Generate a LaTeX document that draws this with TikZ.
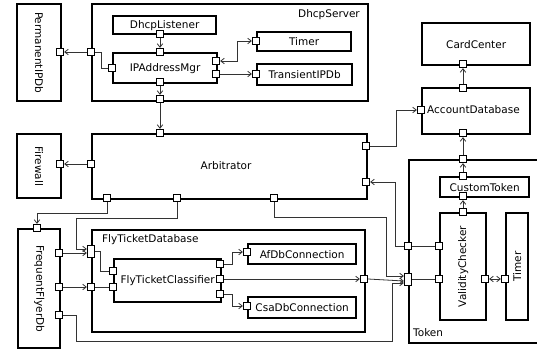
\documentclass[tikz,border=0pt]{standalone}
\usepackage{fontspec}
\setmainfont{DejaVu Sans}
\usetikzlibrary{arrows.meta}
\begin{document}
\begin{tikzpicture}[x=1pt,y=-1pt,
  every node/.style={font=\fontsize{10.5}{12}\selectfont, inner sep=0pt},
  comp/.style={draw, line width=2.3pt, rectangle, anchor=north west, inner sep=0pt},
  lbl/.style={anchor=center},
  port/.style={draw, fill=white, line width=0.8pt, minimum width=7.5pt, minimum height=7.5pt, inner sep=0pt},
  tallport/.style={port, minimum height=12pt},
  wire/.style={line width=0.8pt, draw=black!80},
  arr/.style={wire, -{Straight Barb[length=3.5pt,width=5.5pt]}},
  darr/.style={wire, {Straight Barb[length=3.5pt,width=5.5pt]}-{Straight Barb[length=3.5pt,width=5.5pt]}},
]
\useasboundingbox (0,0) rectangle (537,349);
\clip (0,0) rectangle (537,349);

% ---------- components ----------
\node[comp, minimum width=44pt,  minimum height=97pt]  (perm)   at (16,3)   {};
\node[comp, minimum width=276pt, minimum height=97pt]  (dhcp)   at (91,3)   {};
\node[comp, minimum width=103pt, minimum height=18pt]  (listen) at (112,15) {};
\node[comp, minimum width=104pt, minimum height=30pt]  (ipm)    at (112,52) {};
\node[comp, minimum width=94pt,  minimum height=19pt]  (timerA) at (256,31) {};
\node[comp, minimum width=95pt,  minimum height=21pt]  (trans)  at (256,63) {};
\node[comp, minimum width=108pt, minimum height=42pt]  (card)   at (421,22) {};
\node[comp, minimum width=108pt, minimum height=46pt]  (acct)   at (421,87) {};
\node[comp, minimum width=44pt,  minimum height=64pt]  (fw)     at (16,133) {};
\node[comp, minimum width=275pt, minimum height=65pt]  (arb)    at (91,133) {};
\node[comp, minimum width=137pt, minimum height=183pt] (token)  at (408,159) {};
\node[comp, minimum width=89pt,  minimum height=20pt]  (ctok)   at (439,176) {};
\node[comp, minimum width=46pt,  minimum height=107pt] (valid)  at (439,212) {};
\node[comp, minimum width=22pt,  minimum height=107pt] (timerB) at (505,212) {};
\node[comp, minimum width=42pt,  minimum height=119pt] (ffdb)   at (17,228) {};
\node[comp, minimum width=273pt, minimum height=102pt] (ftd)    at (91,229) {};
\node[comp, minimum width=107pt, minimum height=43pt]  (ftc)    at (113,258) {};
\node[comp, minimum width=108pt, minimum height=20pt]  (afdb)   at (247,243) {};
\node[comp, minimum width=108pt, minimum height=21pt]  (csa)    at (247,296) {};

% ---------- labels ----------
\node[lbl, rotate=-90] (permT)   at (perm.center)   {PermanentIPDb};
\node[anchor=east]     (dhcpT)   at (360,15)        {DhcpServer};
\node[lbl]             (listenT) at (listen.center) {DhcpListener};
\node[lbl]             (ipmT)    at (ipm.center)    {IPAddressMgr};
\node[lbl]             (timerAT) at (timerA.center) {Timer};
\node[lbl]             (transT)  at (trans.center)  {TransientIPDb};
\node[lbl]             (cardT)   at (card.center)   {CardCenter};
\node[anchor=west]     (acctT)   at (427,110)       {AccountDatabase};
\node[lbl, rotate=-90] (fwT)     at (fw.center)     {Firewall};
\node[lbl]             (arbT)    at (226,166)       {Arbitrator};
\node[anchor=west]     (tokenT)  at (413,333)       {Token};
\node[lbl]             (ctokT)   at (ctok.center)   {CustomToken};
\node[lbl, rotate=90]  (validT)  at (valid.center)  {ValidityChecker};
\node[lbl, rotate=90]  (timerBT) at (timerB.center) {Timer};
\node[lbl, rotate=-90] (ffdbT)   at (ffdb.center)   {FrequentFlyerDb};
\node[anchor=west]     (ftdT)    at (102,240)       {FlyTicketDatabase};
\node[lbl]             (ftcT)    at (ftc.center)    {FlyTicketClassifier};
\node[lbl]             (afdbT)   at (afdb.center)   {AfDbConnection};
\node[lbl]             (csaT)    at (csa.center)    {CsaDbConnection};

% ---------- ports ----------
\node[port] (pPerm)  at (60,52)   {};
\node[port] (pDhcpL) at (91,52)   {};
\node[port] (pDhcpB) at (160,99)  {};
\node[port] (pLisB)  at (160,34)  {};
\node[port] (pIpmT)  at (160,52)  {};
\node[port] (pIpmL)  at (112,68)  {};
\node[port] (pIpmR1) at (216,61)  {};
\node[port] (pIpmR2) at (216,74)  {};
\node[port] (pIpmB)  at (160,82)  {};
\node[port] (pTimA)  at (256,41)  {};
\node[port] (pTrans) at (256,74)  {};
\node[port] (pArbT)  at (160,133) {};
\node[port] (pArbL)  at (91,164)  {};
\node[port] (pFw)    at (60,164)  {};
\node[port] (pArbB1) at (107,198) {};
\node[port] (pArbB2) at (177,198) {};
\node[port] (pArbB3) at (274,198) {};
\node[port] (pArbR1) at (366,146) {};
\node[port] (pArbR2) at (366,182) {};
\node[port] (pAcctL) at (421,110) {};
\node[port] (pAcctT) at (463,88)  {};
\node[port] (pAcctB) at (463,133) {};
\node[port] (pCard)  at (463,64)  {};
\node[port] (pTokT)  at (463,159) {};
\node[port] (pCtokT) at (463,176) {};
\node[port] (pCtokB) at (463,196) {};
\node[port] (pValT)  at (463,212) {};
\node[port] (pValL1) at (439,246) {};
\node[port] (pValL2) at (439,279) {};
\node[port] (pValR)  at (485,279) {};
\node[port] (pTimB)  at (505,279) {};
\node[port] (pTokL1) at (408,246) {};
\node[tallport] (pTokL2) at (408,279) {};
\node[port] (pFfT)   at (37,228)  {};
\node[port] (pFfR1)  at (59,253)  {};
\node[port] (pFfR2)  at (59,287)  {};
\node[port] (pFfR3)  at (59,315)  {};
\node[tallport] (pFtdL1) at (91,251) {};
\node[port] (pFtdL2) at (91,287)  {};
\node[port] (pFtdR)  at (364,279) {};
\node[port] (pFtcL1) at (113,271) {};
\node[port] (pFtcL2) at (113,287) {};
\node[port] (pFtcR1) at (220,264) {};
\node[port] (pFtcR2) at (220,279) {};
\node[port] (pFtcR3) at (220,294) {};
\node[port] (pAf)    at (247,252) {};
\node[port] (pCsa)   at (247,306) {};

% ---------- connectors ----------
\draw[arr]  (pDhcpL) -- (pPerm);
\draw[wire] (pDhcpL.east) -- (101,52) |- (pIpmL.west);
\draw[arr]  (pLisB) -- (pIpmT);
\draw[darr] (pIpmR1.east) -- (237,61) |- (pTimA.west);
\draw[arr]  (pIpmR2) -- (pTrans);
\draw[arr]  (pIpmB) -- (pDhcpB);
\draw[arr]  (pDhcpB) -- (pArbT);
\draw[arr]  (pArbL) -- (pFw);
\draw[arr]  (pArbR1.east) -- (396,146) |- (pAcctL.west);
\draw[arr]  (pAcctT) -- (pCard);
\draw[arr]  (pTokT) -- (pAcctB);
\draw[arr]  (pCtokT) -- (pTokT);
\draw[arr]  (pValT) -- (pCtokB);
\draw[darr] (pValR) -- (pTimB);
\draw[wire] (pTokL1) -- (pValL1);
\draw[wire] (pTokL2) -- (pValL2);
\draw[arr]  (pTokL1.west) -- (395,246) |- (pArbR2.east);
\draw[arr]  (pArbB1.south) -- (107,213) -| (pFfT.north);
\draw[arr]  (pArbB2.south) -- (177,218) -| (76,249) -- (pFtdL1.west |- 0,249);
\draw[arr]  (pFfR1.east) -- (pFtdL1.west |- 0,253);
\draw[wire] (pFtdL1.east |- 0,251) -- (100,251) |- (pFtcL1.west);
\draw[arr]  (pFfR2) -- (pFtdL2);
\draw[wire] (pFtdL2) -- (pFtcL2);
\draw[arr]  (pFtcR2) -- (pFtdR);
\draw[arr]  (pFtcR1.east) -- (232,264) |- (pAf.west);
\draw[arr]  (pFtcR3.east) -- (232,294) |- (pCsa.west);
\draw[arr]  (pArbB3.south) -- (274,217) -| (386,276) -- (pTokL2.west |- 0,276);
\draw[arr]  (pFtdR.east) -- (pTokL2.west |- 0,281);
\draw[arr]  (pFfR3.east) -- (76,315) |- (392,341) |- (pTokL2.west |- 0,283);
\end{tikzpicture}
\end{document}
